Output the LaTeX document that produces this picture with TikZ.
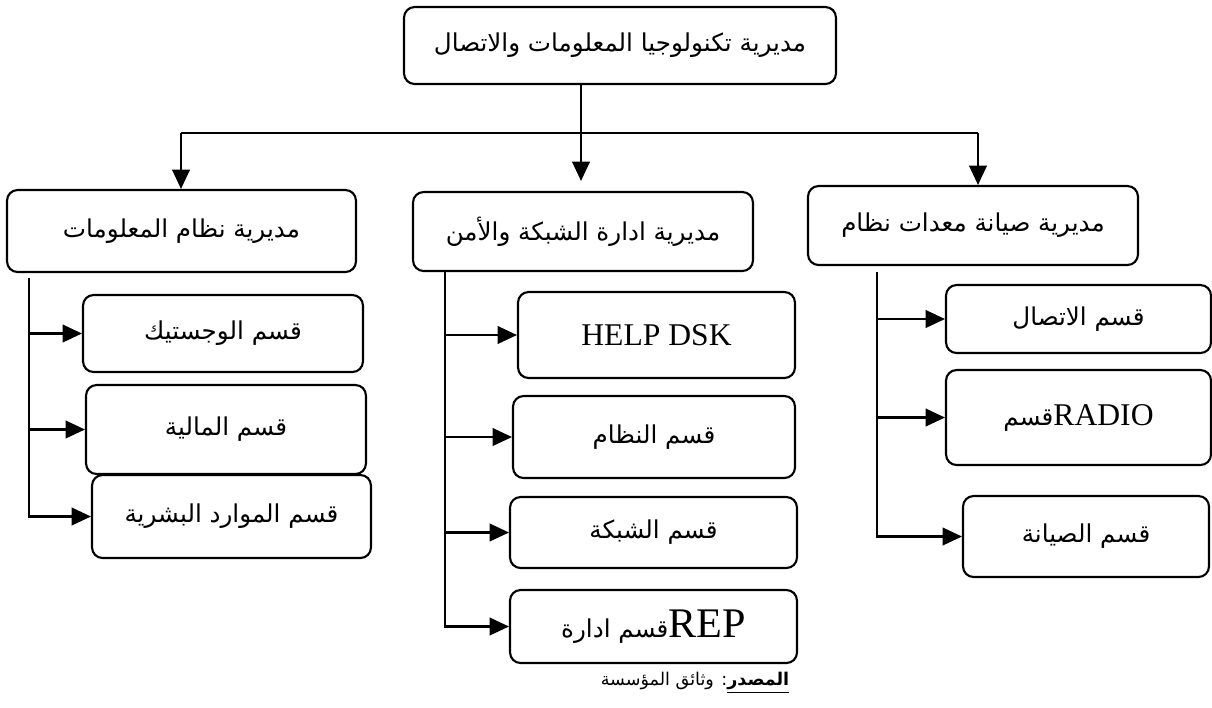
\documentclass[tikz,border=0pt]{standalone}
\usepackage{fontspec}
\setmainfont{Liberation Serif}
\newfontfamily\arabicfont[Script=Arabic]{DejaVu Sans}
\TeXXeTstate=1
\usetikzlibrary{arrows.meta}
\newcommand{\artxt}[1]{{\arabicfont\beginR #1\endR}}

\begin{document}
\begin{tikzpicture}[x=0.02cm,y=-0.02cm,line width=1.2pt,
	arr/.style={-{Triangle[length=11pt,width=10pt]}}]
		\useasboundingbox (0,0) rectangle (1212,707);
		\begin{scope}[every node/.style={draw,rounded corners=6pt,line width=1.2pt,
			inner sep=0pt,font=\fontsize{14}{17}\selectfont}]
		\node (top) at (620,45.5) [minimum width=8.64cm,minimum height=1.54cm]{\artxt{مديرية تكنولوجيا المعلومات والاتصال}};
		\node (L) at (181.5,231) [minimum width=6.98cm,minimum height=1.64cm]{\artxt{مديرية نظام المعلومات}};
		\node (M) at (583,231.5) [minimum width=6.80cm,minimum height=1.58cm]{\artxt{مديرية ادارة الشبكة والأمن}};
		\node (R) at (973,225.5) [minimum width=6.60cm,minimum height=1.58cm]{\artxt{مديرية صيانة معدات نظام}};
		\node (L1) at (223,333.5) [minimum width=5.60cm,minimum height=1.54cm]{\artxt{قسم الوجستيك}};
		\node (L2) at (226,429.5) [minimum width=5.60cm,minimum height=1.78cm]{\artxt{قسم المالية}};
		\node (L3) at (231.5,516.5) [minimum width=5.58cm,minimum height=1.66cm]{\artxt{قسم الموارد البشرية}};
		\node (M1) at (656.5,335) [minimum width=5.54cm,minimum height=1.72cm,font=\fontsize{18}{20}\selectfont]{HELP DSK};
		\node (M2) at (654,437) [minimum width=5.64cm,minimum height=1.64cm]{\artxt{قسم النظام}};
		\node (M3) at (653.5,532.5) [minimum width=5.74cm,minimum height=1.42cm]{\artxt{قسم الشبكة}};
		\node (M4) at (653.5,626.5) [minimum width=5.74cm,minimum height=1.46cm]{\artxt{قسم ادارة}{\fontsize{24}{26}\selectfont REP}};
		\node (R1) at (1078.5,319) [minimum width=5.30cm,minimum height=1.36cm]{\artxt{قسم الاتصال}};
		\node (R2) at (1078.5,417.5) [minimum width=5.30cm,minimum height=1.90cm]{\artxt{قسم}{\fontsize{18}{20}\selectfont RADIO}};
		\node (R3) at (1086,536.5) [minimum width=4.92cm,minimum height=1.62cm]{\artxt{قسم الصيانة}};
		\end{scope}

		\node (src) at (695,683) [font=\fontsize{10}{12}\selectfont]{\arabicfont\beginR\underline{\beginR\textbf{المصدر}\endR}: وثائق المؤسسة\endR};

		\coordinate (hub) at (581,133);
		\coordinate (lft) at (181,133);
		\coordinate (rgt) at (978,133);
		\coordinate (Lsp) at (29,278);
		\coordinate (Msp) at (445,271);
		\coordinate (Rsp) at (877,272);

		\draw (top.south -| hub) -- (hub);
		\draw (lft) -- (rgt);
		\draw [arr] (lft) -- (lft |- L.north);
		\draw [arr,shorten >=0.2cm] (hub) -- (hub |- M.north);
		\draw [arr] (rgt) -- (rgt |- R.north);

		\draw [arr] (Lsp |- L1.west) -- (L1.west);
		\draw [arr] (Lsp |- L2.west) -- (L2.west);
		\draw [arr] (Lsp) |- (L3.west);

		\draw [arr] (Msp |- M1.west) -- (M1.west);
		\draw [arr] (Msp |- M2.west) -- (M2.west);
		\draw [arr] (Msp |- M3.west) -- (M3.west);
		\draw [arr] (Msp) |- (M4.west);

		\draw [arr] (Rsp |- R1.west) -- (R1.west);
		\draw [arr] (Rsp |- R2.west) -- (R2.west);
		\draw [arr] (Rsp) |- (R3.west);
		\end{tikzpicture}
\end{document}
